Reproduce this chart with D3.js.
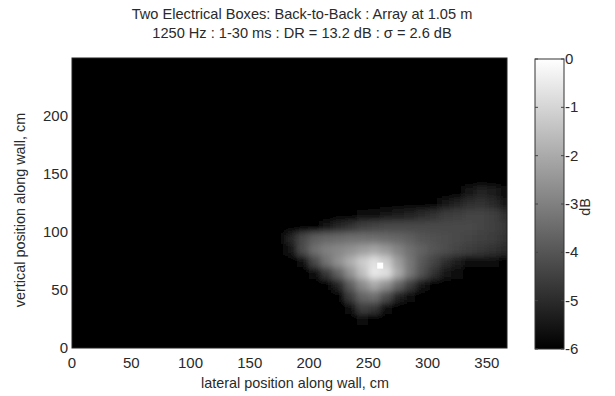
<!DOCTYPE html>
<html>
<head>
<meta charset="utf-8">
<script src="https://cdn.jsdelivr.net/npm/d3@7"></script>
<style>
  body { margin: 0; background: #fff; }
  text { font-family: "Liberation Sans", Arial, sans-serif; fill: #2a2a2a; }
</style>
</head>
<body>
<div id="chart"></div>
<script>
// title lines
const titleLines = [
  "Two Electrical Boxes: Back-to-Back : Array at 1.05 m",
  "1250 Hz : 1-30 ms : DR = 13.2 dB : \u03c3 = 2.6 dB"
];
const xTicks = [0, 50, 100, 150, 200, 250, 300, 350];
const yTicks = [0, 50, 100, 150, 200];
const cbTicks = [0, -1, -2, -3, -4, -5, -6];

// level grid (dB), 10 cm cells, columns start at x=180 cm, rows start at y=20 cm (bottom row first)
const gridX0 = 180, gridY0 = 20, gridStep = 10;
const dbRows = [
  [-6,-6,-6,-6,-6,-6,-5.8,-5.9,-6,-6,-6,-6,-6,-6,-6,-6,-6,-6,-6],
  [-6,-6,-6,-6,-6,-5.6,-4.5,-4.7,-5.7,-6,-6,-6,-6,-6,-6,-6,-6,-6,-6],
  [-6,-6,-6,-6,-5.9,-4.6,-3.6,-3.4,-4.2,-5.2,-5.8,-6,-6,-6,-6,-6,-6,-6,-6],
  [-6,-6,-6,-6,-5.1,-3.8,-2.7,-2.0,-2.6,-3.6,-4.6,-5.4,-5.9,-6,-6,-6,-6,-6,-6],
  [-6,-6,-5.7,-4.7,-3.7,-2.6,-1.5,-0.5,-0.7,-2.0,-3.2,-4.1,-4.8,-5.4,-5.8,-6,-6,-6,-6],
  [-6,-5.6,-4.3,-3.3,-2.6,-1.9,-1.2,-0.7,-1.2,-2.3,-3.2,-3.9,-4.4,-4.9,-5.3,-5.6,-5.7,-5.8,-5.9],
  [-5.5,-4.2,-3.4,-3.0,-2.8,-2.6,-2.3,-2.1,-2.4,-2.9,-3.4,-3.7,-4.0,-4.2,-4.4,-4.6,-4.7,-4.8,-5.0],
  [-5.1,-4.3,-3.8,-3.6,-3.5,-3.4,-3.4,-3.4,-3.5,-3.6,-3.8,-4.0,-4.1,-4.2,-4.3,-4.4,-4.5,-4.6,-4.8],
  [-6,-6,-5.9,-5.5,-5.1,-4.8,-4.5,-4.4,-4.3,-4.3,-4.3,-4.3,-4.3,-4.3,-4.3,-4.3,-4.4,-4.5,-4.7],
  [-6,-6,-6,-6,-6,-6,-5.8,-5.6,-5.4,-5.3,-5.2,-5.0,-4.8,-4.6,-4.5,-4.4,-4.4,-4.5,-4.8],
  [-6,-6,-6,-6,-6,-6,-6,-6,-6,-6,-6,-6,-5.9,-5.5,-5.2,-4.9,-4.8,-5.0,-5.5],
  [-6,-6,-6,-6,-6,-6,-6,-6,-6,-6,-6,-6,-6,-6,-5.9,-5.5,-5.2,-5.3,-5.8],
  [-6,-6,-6,-6,-6,-6,-6,-6,-6,-6,-6,-6,-6,-6,-6,-6,-5.9,-5.9,-6]
];
// peak marker (cm)
const peakX = [260], peakY = [71];

const W = 615, H = 396;
const plot = { left: 72, top: 58, right: 507, bottom: 348 };
const cb = { left: 535, top: 59, right: 564, bottom: 349 };

const svg = d3.select("#chart").append("svg")
  .attr("width", W).attr("height", H);

const x = d3.scaleLinear().domain([0, 367]).range([plot.left, plot.right]);
const y = d3.scaleLinear().domain([0, 250]).range([plot.bottom, plot.top]);
const color = d3.scaleLinear().domain([-6, 0]).range(["#000", "#fff"]).clamp(true);

const defs = svg.append("defs");
defs.append("clipPath").attr("id", "plotclip")
  .append("rect")
  .attr("x", plot.left).attr("y", plot.top)
  .attr("width", plot.right - plot.left).attr("height", plot.bottom - plot.top);
defs.append("filter").attr("id", "soft")
  .attr("filterUnits", "userSpaceOnUse")
  .attr("x", plot.left - 20).attr("y", plot.top - 20)
  .attr("width", plot.right - plot.left + 40).attr("height", plot.bottom - plot.top + 40)
  .append("feGaussianBlur").attr("stdDeviation", 3.5);

// title
svg.selectAll("text.title").data(titleLines).enter().append("text")
  .attr("class", "title")
  .attr("x", 302).attr("y", (d, i) => 19 + i * 19)
  .attr("text-anchor", "middle")
  .style("font-size", "14.6px")
  .text(d => d);

// heat map
const cells = [];
dbRows.forEach((row, r) => row.forEach((v, c) => cells.push({
  x0: gridX0 + c * gridStep, y0: gridY0 + r * gridStep, v: v
})));

const clipG = svg.append("g").attr("clip-path", "url(#plotclip)");
const heat = clipG.append("g").attr("filter", "url(#soft)");
heat.append("rect")
  .attr("x", plot.left - 20).attr("y", plot.top - 20)
  .attr("width", plot.right - plot.left + 40).attr("height", plot.bottom - plot.top + 40)
  .attr("fill", color(-6));
heat.selectAll("rect.cell").data(cells).enter().append("rect")
  .attr("class", "cell")
  .attr("x", d => x(d.x0))
  .attr("y", d => y(d.y0 + gridStep))
  .attr("width", d => x(d.x0 + gridStep) - x(d.x0) + 0.5)
  .attr("height", d => y(d.y0) - y(d.y0 + gridStep) + 0.5)
  .attr("fill", d => color(d.v));

clipG.selectAll("rect.peak").data(peakX).enter().append("rect")
  .attr("class", "peak")
  .attr("x", (d, i) => x(d) - 3).attr("y", (d, i) => y(peakY[i]) - 3)
  .attr("width", 6).attr("height", 6)
  .attr("fill", "#fff");

// axes box
svg.append("rect")
  .attr("x", plot.left).attr("y", plot.top)
  .attr("width", plot.right - plot.left).attr("height", plot.bottom - plot.top)
  .attr("fill", "none").attr("stroke", "#222").attr("stroke-width", 1);

// x ticks
svg.selectAll("text.xt").data(xTicks).enter().append("text")
  .attr("class", "xt")
  .attr("x", d => x(d)).attr("y", plot.bottom + 20)
  .attr("text-anchor", "middle")
  .style("font-size", "15px")
  .text(d => d);

// y ticks
svg.selectAll("text.yt").data(yTicks).enter().append("text")
  .attr("class", "yt")
  .attr("x", plot.left - 4).attr("y", d => y(d) + 5)
  .attr("text-anchor", "end")
  .style("font-size", "15px")
  .text(d => d);

svg.append("text")
  .attr("x", 295).attr("y", 388)
  .attr("text-anchor", "middle")
  .style("font-size", "14.4px")
  .text("lateral position along wall, cm");

svg.append("text")
  .attr("transform", "translate(25,210) rotate(-90)")
  .attr("text-anchor", "middle")
  .style("font-size", "14.4px")
  .text("vertical position along wall, cm");

// colour bar
const cy = d3.scaleLinear().domain([-6, 0]).range([cb.bottom, cb.top]);
const grad = defs.append("linearGradient").attr("id", "cbgrad")
  .attr("x1", 0).attr("y1", 1).attr("x2", 0).attr("y2", 0);
grad.selectAll("stop").data(cbTicks.slice().reverse()).enter().append("stop")
  .attr("offset", d => (d + 6) / 6)
  .attr("stop-color", d => color(d));

svg.append("rect")
  .attr("x", cb.left).attr("y", cb.top)
  .attr("width", cb.right - cb.left).attr("height", cb.bottom - cb.top)
  .attr("fill", "url(#cbgrad)")
  .attr("stroke", "#333").attr("stroke-width", 1);

const cbAxis = svg.append("g");
cbAxis.selectAll("line.tl").data(cbTicks).enter().append("line")
  .attr("x1", cb.right - 3).attr("x2", cb.right)
  .attr("y1", d => cy(d)).attr("y2", d => cy(d))
  .attr("stroke", "#444");
cbAxis.selectAll("line.tr").data(cbTicks).enter().append("line")
  .attr("x1", cb.left).attr("x2", cb.left + 3)
  .attr("y1", d => cy(d)).attr("y2", d => cy(d))
  .attr("stroke", "#444");
cbAxis.selectAll("text").data(cbTicks).enter().append("text")
  .attr("x", cb.right + 1).attr("y", d => cy(d) + 5)
  .style("font-size", "15px")
  .text(d => d);

svg.append("text")
  .attr("transform", "translate(590,207) rotate(-90)")
  .attr("text-anchor", "middle")
  .style("font-size", "14.4px")
  .text("dB");
</script>
</body>
</html>
